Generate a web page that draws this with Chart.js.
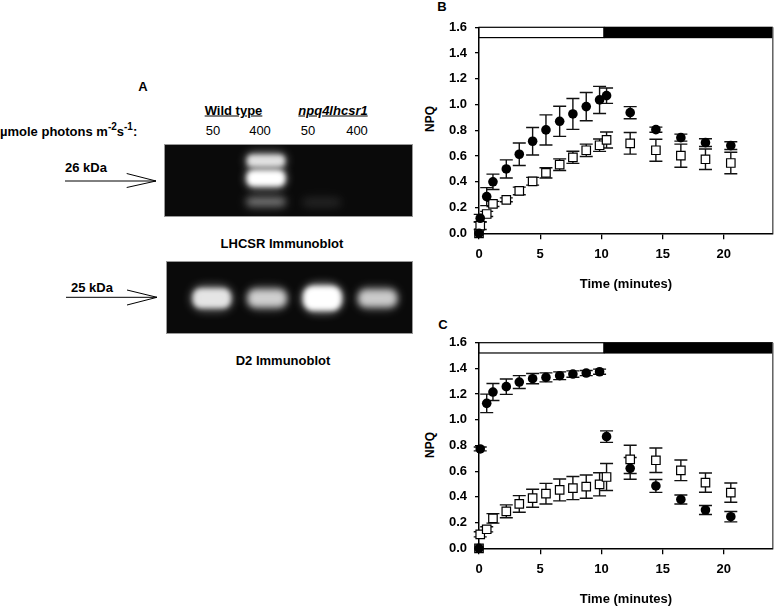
<!doctype html>
<html>
<head>
<meta charset="utf-8">
<script src="https://cdn.jsdelivr.net/npm/chart.js@4.4.1/dist/chart.umd.min.js"></script>
<style>
  body { margin: 0; width: 775px; height: 608px; position: relative; background: #fff; overflow: hidden;
         font-family: "Liberation Sans", Arial, sans-serif; color: #000; }
  .t { position: absolute; font-size: 13px; line-height: 13px; font-weight: bold; white-space: nowrap; transform: translate(-50%, -50%); }
  .l { transform: translate(0, -50%); }
  .n { font-weight: normal; }
  .u { text-decoration: underline; }
  .rot { transform: translate(-50%, -50%) rotate(-90deg); font-size: 12px; }
  .box { position: absolute; }
  sup { font-size: 10px; line-height: 0; vertical-align: 6px; }
  svg { position: absolute; left: 0; top: 0; }
</style>
</head>
<body>

<div class="t" style="left:143px; top:86px">A</div>
<div class="t" style="left:442px; top:6px">B</div>
<div class="t" style="left:443px; top:324px">C</div>

<div class="t u" style="left:233.5px; top:110px">Wild type</div>
<div class="t u" style="left:333px; top:110px"><i>npq4lhcsr1</i></div>
<div class="t" style="left:0; top:125px; transform:none">µmole photons m<sup>-2</sup>s<sup>-1</sup>:</div>
<div class="t n" style="left:213px; top:130px">50</div>
<div class="t n" style="left:260px; top:130px">400</div>
<div class="t n" style="left:308px; top:130px">50</div>
<div class="t n" style="left:357px; top:130px">400</div>

<div class="t l" style="left:65px; top:166.7px">26 kDa</div>
<div class="t l" style="left:71px; top:287.3px">25 kDa</div>
<div class="t" style="left:282px; top:243.3px">LHCSR Immunoblot</div>
<div class="t" style="left:283px; top:360px">D2 Immunoblot</div>

<div class="t rot" style="left:430px; top:118.5px">NPQ</div>
<div class="t rot" style="left:430px; top:445px">NPQ</div>

<svg width="420" height="340">
  <g stroke="#000" stroke-width="1" fill="none">
    <line x1="65" y1="181" x2="156" y2="181"/>
    <polyline points="126.7,173.5 156,181 126.7,187.5"/>
    <line x1="66" y1="297.3" x2="157" y2="297.3"/>
    <polyline points="127,290 157,297.3 127,305"/>
  </g>
</svg>

<div class="box" style="left:164px; top:144px; width:249px; height:73px"><canvas id="lhcsr" width="249" height="73"></canvas></div>
<div class="box" style="left:166px; top:261px; width:247px; height:73px"><canvas id="d2" width="247" height="73"></canvas></div>
<div class="box" style="left:420px; top:0; width:360px; height:300px"><canvas id="panelB" width="360" height="300"></canvas></div>
<div class="box" style="left:420px; top:300px; width:360px; height:308px"><canvas id="panelC" width="360" height="308"></canvas></div>

<script>
// time points in minutes, same for both NPQ panels
const times = [0, 0.1, 0.63, 1.14, 2.23, 3.29, 4.38, 5.47, 6.59, 7.67, 8.76, 9.85, 10.42, 12.35, 14.45, 16.49, 18.5, 20.57];

// panel B
const wtB     = [0, 0.117, 0.285, 0.40, 0.50, 0.614, 0.715, 0.803, 0.87, 0.927, 0.984, 1.036, 1.069, 0.937, 0.805, 0.743, 0.704, 0.681];
const wtBErr  = [0, 0.03, 0.07, 0.06, 0.07, 0.087, 0.107, 0.117, 0.117, 0.12, 0.11, 0.105, 0.06, 0.047, 0.02, 0.027, 0.03, 0.03];
const mutB    = [0, 0.06, 0.15, 0.228, 0.26, 0.329, 0.404, 0.469, 0.533, 0.59, 0.645, 0.684, 0.725, 0.699, 0.645, 0.603, 0.575, 0.546];
const mutBErr = [0, 0.03, 0.02, 0.02, 0.015, 0.03, 0.03, 0.04, 0.045, 0.047, 0.048, 0.048, 0.062, 0.084, 0.085, 0.09, 0.08, 0.083];

// panel C
const wtC     = [0, 0.773, 1.128, 1.216, 1.258, 1.294, 1.32, 1.33, 1.343, 1.356, 1.364, 1.374, 0.869, 0.622, 0.485, 0.38, 0.298, 0.246];
const wtCErr  = [0, 0.015, 0.072, 0.066, 0.06, 0.05, 0.04, 0.035, 0.03, 0.025, 0.02, 0.02, 0.045, 0.085, 0.05, 0.035, 0.035, 0.04];
const mutC    = [0, 0.109, 0.148, 0.233, 0.288, 0.345, 0.39, 0.425, 0.454, 0.469, 0.48, 0.498, 0.555, 0.692, 0.685, 0.607, 0.511, 0.433];
const mutCErr = [0, 0.02, 0.02, 0.037, 0.05, 0.065, 0.07, 0.08, 0.085, 0.09, 0.09, 0.09, 0.105, 0.11, 0.095, 0.08, 0.075, 0.075];

// light / dark periods shown in the bar on top (minutes) and the bar's NPQ span
const lightPeriod = [0, 10.2];
const darkPeriod  = [10.2, 24];
const barSpan     = [1.52, 1.6];

// immunoblots: lane, relative migration (0 = top), signal level 0..1
const lhcsrLane  = [2, 2, 2, 3];
const lhcsrPos   = [0.23, 0.47, 0.79, 0.80];
const lhcsrLevel = [0.8, 1.0, 0.35, 0.1];
const d2Lane     = [1, 2, 3, 4];
const d2Pos      = [0.51, 0.51, 0.51, 0.51];
const d2Level    = [0.82, 0.7, 1.0, 0.68];

Chart.defaults.font.family = "'Liberation Sans', Arial, sans-serif";
Chart.defaults.color = '#000';

const tickFont = { size: 13, weight: 'bold' };

const errorBars = {
  id: 'errorBars',
  beforeDatasetsDraw(chart) {
    const { ctx, scales: { x, y } } = chart;
    ctx.save();
    ctx.strokeStyle = '#111';
    ctx.lineWidth = 1.4;
    chart.data.datasets.forEach(ds => {
      ds.data.forEach((p, i) => {
        const e = ds.err[i];
        if (!e) return;
        const px = x.getPixelForValue(p.x);
        const top = y.getPixelForValue(p.y + e);
        const bot = y.getPixelForValue(p.y - e);
        ctx.beginPath();
        ctx.moveTo(px, top); ctx.lineTo(px, bot);
        ctx.moveTo(px - 6.5, top); ctx.lineTo(px + 6.5, top);
        ctx.moveTo(px - 6.5, bot); ctx.lineTo(px + 6.5, bot);
        ctx.stroke();
      });
    });
    ctx.restore();
  }
};

const lightBar = {
  id: 'lightBar',
  afterDatasetsDraw(chart) {
    const { ctx, chartArea: a, scales: { x, y } } = chart;
    const top = y.getPixelForValue(barSpan[1]);
    const bot = y.getPixelForValue(barSpan[0]);
    const l0 = x.getPixelForValue(lightPeriod[0]);
    const l1 = x.getPixelForValue(lightPeriod[1]);
    const d0 = x.getPixelForValue(darkPeriod[0]);
    const d1 = x.getPixelForValue(darkPeriod[1]);
    ctx.save();
    ctx.fillStyle = '#fff';
    ctx.fillRect(l0, top, l1 - l0, bot - top);
    ctx.strokeStyle = '#000';
    ctx.lineWidth = 1.2;
    ctx.strokeRect(l0, top, l1 - l0, bot - top);
    ctx.fillStyle = '#000';
    ctx.fillRect(d0, top - 0.6, d1 - d0, bot - top + 1.2);
    // right side of the frame
    ctx.strokeStyle = '#555';
    ctx.lineWidth = 1.4;
    ctx.beginPath();
    ctx.moveTo(a.right, top);
    ctx.lineTo(a.right, a.bottom);
    ctx.stroke();
    ctx.restore();
  }
};

function npqChart(id, wt, wtErr, mut, mutErr, pad, xHeight) {
  const pts = vals => times.map((t, i) => ({ x: t, y: vals[i] }));
  return new Chart(document.getElementById(id), {
    type: 'scatter',
    data: {
      // dataset 0 is painted last, so the filled circles sit on top
      datasets: [
        { data: pts(wt), err: wtErr, pointStyle: 'circle', pointRadius: 4.8, backgroundColor: '#000',
          borderColor: '#000', borderWidth: 0, clip: false },
        { data: pts(mut), err: mutErr, pointStyle: 'rect', pointRadius: 6, backgroundColor: '#fff',
          borderColor: '#000', borderWidth: 1.2, clip: false }
      ]
    },
    options: {
      responsive: false,
      animation: false,
      events: [],
      layout: { padding: pad },
      plugins: { legend: { display: false }, tooltip: { enabled: false } },
      scales: {
        x: {
          type: 'linear', min: 0, max: 24,
          afterBuildTicks: s => { s.ticks = s.ticks.filter(t => t.value % 5 === 0); },
          ticks: { stepSize: 5, includeBounds: false, padding: 7, maxRotation: 0, font: tickFont },
          grid: { drawOnChartArea: false, tickLength: 6, color: '#000', lineWidth: 1.3 },
          border: { color: '#000', width: 1.5 },
          title: { display: true, text: 'Time (minutes)', font: tickFont, padding: { top: 0, bottom: 1 } },
          afterFit: s => { s.height = xHeight; }
        },
        y: {
          min: 0, max: 1.6,
          ticks: { stepSize: 0.2, padding: 8, font: tickFont, callback: v => v.toFixed(1) },
          grid: { drawOnChartArea: false, tickLength: 4, color: '#000', lineWidth: 1.3 },
          border: { color: '#000', width: 1.5 },
          afterFit: s => { s.width = 59; }
        }
      }
    },
    plugins: [errorBars, lightBar]
  });
}

// the canvas runs a few px past the page edge; the chart keeps ~7px on its right
npqChart('panelB', wtB, wtBErr, mutB, mutBErr, { top: 27.3, right: 0, bottom: 6.7, left: 0 }, 60);
npqChart('panelC', wtC, wtCErr, mutC, mutCErr, { top: 42.7, right: 0, bottom: 0, left: 0 }, 59.7);

const blotBands = {
  id: 'blotBands',
  beforeDatasetsDraw(chart) {
    const { ctx } = chart;
    ctx.save();
    ctx.fillStyle = '#0a0a0a';
    ctx.fillRect(0, 0, chart.width, chart.height);
    ctx.restore();
  },
  afterDatasetsDraw(chart, args, opts) {
    const { ctx, scales: { x, y } } = chart;
    const ds = chart.data.datasets[0];
    ds.data.forEach((b, i) => {
      const lvl = ds.levels[i];
      const px = x.getPixelForValue(b.x);
      const py = y.getPixelForValue(b.y);
      const w = opts.bandW;
      const h = opts.bandH * (0.45 + 0.65 * lvl * lvl);
      ctx.save();
      // soft halo, then the band body
      ctx.filter = 'blur(' + (4 + 3 * (1 - lvl)) + 'px)';
      ctx.fillStyle = 'rgba(255,255,255,' + (0.5 * lvl) + ')';
      ctx.beginPath();
      ctx.roundRect(px - w / 2 - 2, py - h / 2 - 3, w + 4, h + 6, (h + 6) / 2);
      ctx.fill();
      ctx.filter = 'blur(' + (2.5 + 2 * (1 - lvl)) + 'px)';
      ctx.fillStyle = 'rgba(255,255,255,' + lvl + ')';
      ctx.beginPath();
      ctx.roundRect(px - w / 2, py - h / 2, w, h, h / 2.5);
      ctx.fill();
      ctx.restore();
    });
    ctx.save();
    ctx.strokeStyle = '#999';
    ctx.lineWidth = 1;
    ctx.strokeRect(0.5, 0.5, chart.width - 1, chart.height - 1);
    ctx.restore();
  }
};

function blotChart(id, lanes, pos, levels, bandW, bandH) {
  return new Chart(document.getElementById(id), {
    type: 'scatter',
    data: {
      datasets: [{ data: lanes.map((l, i) => ({ x: l, y: pos[i] })), levels: levels, pointRadius: 0 }]
    },
    options: {
      responsive: false,
      animation: false,
      events: [],
      layout: { padding: 0 },
      plugins: { legend: { display: false }, tooltip: { enabled: false }, blotBands: { bandW, bandH } },
      scales: {
        x: { type: 'linear', display: false, min: 0.17, max: 4.64 },
        y: { display: false, min: 0, max: 1, reverse: true }
      }
    },
    plugins: [blotBands]
  });
}

blotChart('lhcsr', lhcsrLane, lhcsrPos, lhcsrLevel, 38, 14);
blotChart('d2', d2Lane, d2Pos, d2Level, 38, 22);
</script>
</body>
</html>
